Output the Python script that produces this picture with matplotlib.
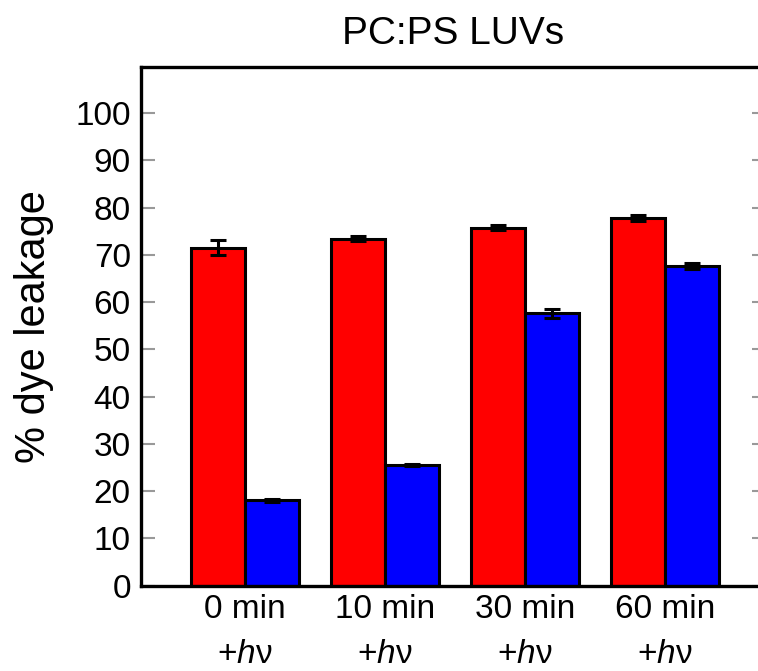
import numpy as np
import matplotlib.pyplot as plt

plt.rcParams['font.family'] = ['Liberation Sans', 'DejaVu Sans']
plt.rcParams['mathtext.fontset'] = 'custom'
plt.rcParams['mathtext.it'] = 'Liberation Sans:italic'

# Data
categories = ["0 min\n+$h$\u03bd", "10 min\n+$h$\u03bd", "30 min\n+$h$\u03bd", "60 min\n+$h$\u03bd"]
red_values = [71.5, 73.4, 75.7, 77.8]
red_errors = [1.6, 0.5, 0.5, 0.6]
blue_values = [18.0, 25.5, 57.6, 67.6]
blue_errors = [0.4, 0.2, 0.9, 0.7]
y_ticks = [0, 10, 20, 30, 40, 50, 60, 70, 80, 90, 100]

W, H = 758, 671
fig = plt.figure(figsize=(W / 100, H / 100), dpi=100)
# right spine sits just outside the picture, as in the reference
left, right, top, bottom = 140.5, 766, 66.7, 585.5
ax = fig.add_axes([left / W, 1 - bottom / H, (right - left) / W, (bottom - top) / H])

x = np.arange(len(categories))
width = 0.384
err_kw = dict(elinewidth=2.2, capsize=5.5, capthick=2.2, ecolor="black")
ax.bar(x - width / 2, red_values, width, yerr=red_errors, color="#ff0000",
       edgecolor="black", linewidth=2.2, error_kw=err_kw, zorder=2)
ax.bar(x + width / 2, blue_values, width, yerr=blue_errors, color="#0000ff",
       edgecolor="black", linewidth=2.2, error_kw=err_kw, zorder=2)

ax.set_xlim(-0.746, 3.72)
ax.set_ylim(0, 109.8)
ax.set_yticks(y_ticks)
ax.set_xticks(x)
ax.set_xticklabels(categories, fontsize=24, linespacing=1.6)
ax.tick_params(axis="x", length=0, pad=6)
ax.tick_params(axis="y", direction="in", length=10, width=1.5, color="#999999",
               labelsize=24, right=True, pad=7)

for spine in ax.spines.values():
    spine.set_linewidth(2.4)

ax.set_ylabel("% dye leakage", fontsize=30, labelpad=15)
ax.set_title("PC:PS LUVs", fontsize=28, pad=16)

fig.savefig("out.png", dpi=100)
